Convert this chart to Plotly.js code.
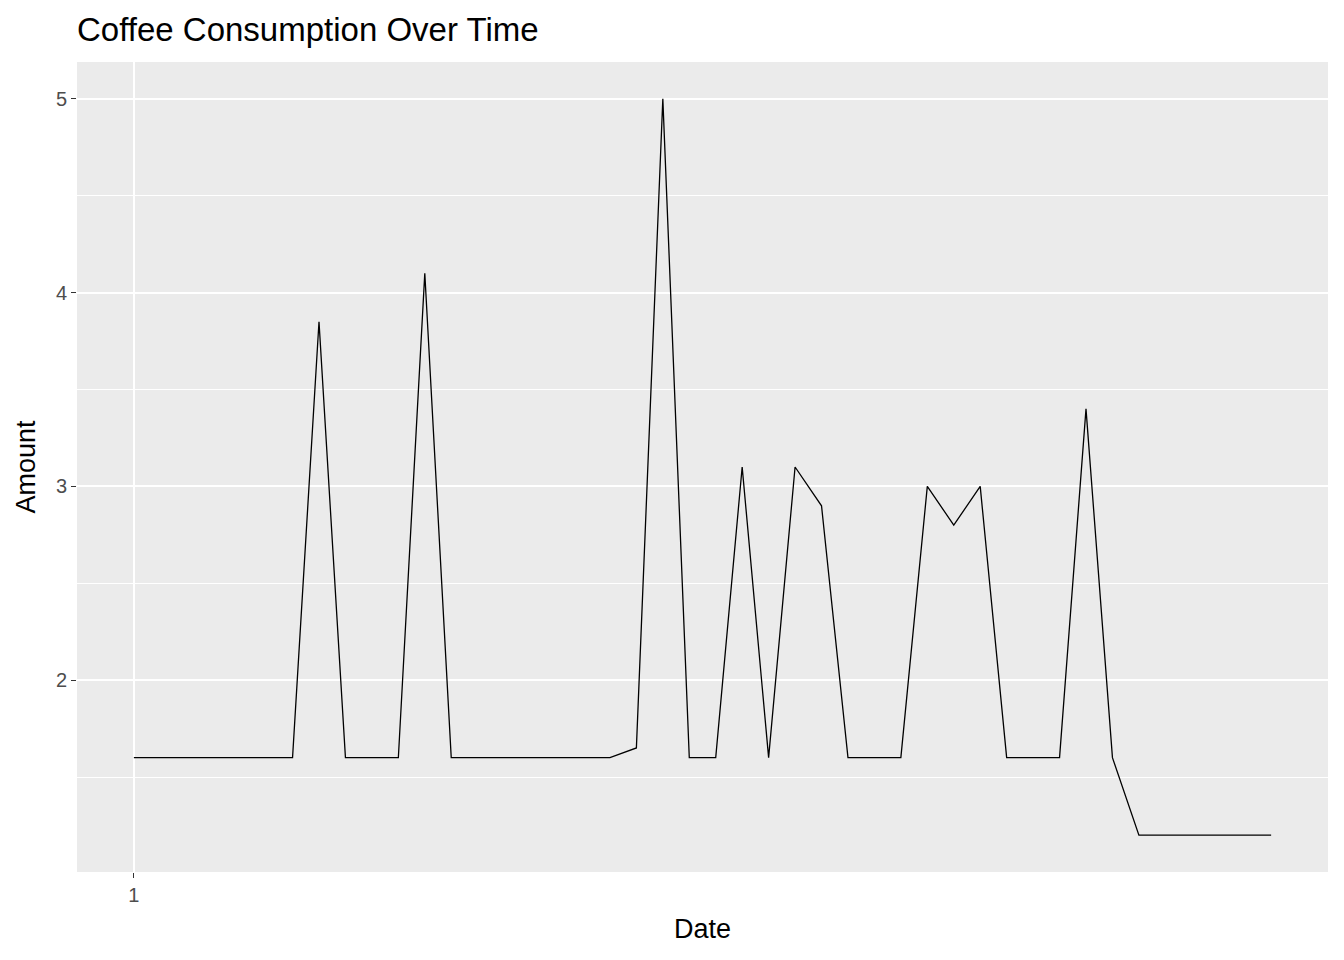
<!DOCTYPE html>
<html>
<head>
<script src="https://cdn.plot.ly/plotly-3.0.1.min.js"></script>
<style>body{margin:0;background:#fff}</style>
</head>
<body>
<div id="plot" style="width:1344px;height:960px"></div>
<script>
// one value per day
const amounts = [
  1.6, 1.6, 1.6, 1.6, 1.6, 1.6, 1.6, 3.85, 1.6, 1.6,
  1.6, 4.1, 1.6, 1.6, 1.6, 1.6, 1.6, 1.6, 1.6, 1.65,
  5.0, 1.6, 1.6, 3.1, 1.6, 3.1, 2.9, 1.6, 1.6, 1.6,
  3.0, 2.8, 3.0, 1.6, 1.6, 1.6, 3.4, 1.6, 1.2, 1.2,
  1.2, 1.2, 1.2, 1.2
];
const days = amounts.map((_, i) => i + 1);

const trace = {
  x: days,
  y: amounts,
  type: 'scatter',
  mode: 'lines',
  line: {color: '#000000', width: 1.3},
  hoverinfo: 'x+y'
};

const layout = {
  width: 1344,
  height: 960,
  paper_bgcolor: '#ffffff',
  plot_bgcolor: '#ebebeb',
  font: {family: 'Liberation Sans, Arial, sans-serif', color: '#000'},
  margin: {l: 77, r: 16, t: 62, b: 88},
  showlegend: false,
  title: {
    text: 'Coffee Consumption Over Time',
    x: 77 / 1344, xanchor: 'left', y: 0.969, yanchor: 'middle',
    font: {size: 33, color: '#000'}
  },
  xaxis: {
    range: [-1.15, 46.15],
    tickvals: [1],
    ticktext: ['1'],
    ticks: 'outside', ticklen: 5, tickcolor: '#333333', tickwidth: 1.2,
    tickfont: {size: 20, color: '#4d4d4d'},
    showgrid: true, gridcolor: '#ffffff', gridwidth: 1.5,
    zeroline: false, showline: false,
    title: {text: 'Date', font: {size: 27}, standoff: 14}
  },
  yaxis: {
    range: [1.01, 5.19],
    tickvals: [2, 3, 4, 5],
    ticks: 'outside', ticklen: 5, tickcolor: '#333333', tickwidth: 1.2,
    tickfont: {size: 20, color: '#4d4d4d'},
    showgrid: true, gridcolor: '#ffffff', gridwidth: 1.5,
    minor: {tickvals: [1.5, 2.5, 3.5, 4.5], showgrid: true, gridcolor: '#ffffff', gridwidth: 0.7},
    zeroline: false, showline: false,
    title: {text: 'Amount', font: {size: 27}, standoff: 12}
  }
};

Plotly.newPlot('plot', [trace], layout, {displayModeBar: false});
</script>
</body>
</html>
